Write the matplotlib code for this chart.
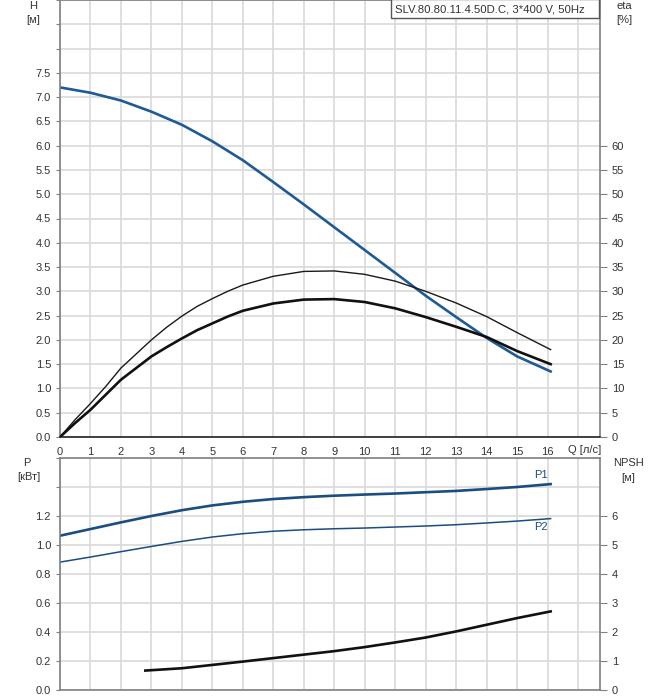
import numpy as np
import matplotlib.pyplot as plt
from matplotlib.patches import Rectangle

plt.rcParams['font.family'] = ['Liberation Sans', 'DejaVu Sans']

# values
q_h = [0, 1, 2, 3, 4, 5, 6, 7, 8, 9, 10, 11, 12, 13, 14, 15, 16.1]
h = [7.2, 7.09, 6.93, 6.70, 6.43, 6.09, 5.70, 5.25, 4.79, 4.32, 3.85, 3.38, 2.91, 2.47, 2.04, 1.66, 1.35]

q_eta = [0, 0.5, 1, 1.5, 2, 2.5, 3, 3.5, 4, 4.5, 5, 5.5, 6, 7, 8, 9, 10, 11, 12, 13, 14, 15, 16.1]
eta_pump = [0, 3.6, 6.9, 10.4, 14.2, 17.1, 20.0, 22.6, 24.9, 26.9, 28.5, 30.0, 31.3, 33.1, 34.1, 34.2, 33.5, 32.1, 30.0, 27.6, 24.8, 21.5, 18.0]
eta_total = [0, 2.9, 5.6, 8.7, 11.8, 14.2, 16.6, 18.5, 20.3, 22.0, 23.4, 24.8, 26.0, 27.5, 28.3, 28.4, 27.8, 26.5, 24.7, 22.7, 20.6, 17.7, 15.0]

q_p = [0, 1, 2, 3, 4, 5, 6, 7, 8, 9, 10, 11, 12, 13, 14, 15, 16.1]
p1 = [1.064, 1.11, 1.156, 1.20, 1.240, 1.273, 1.298, 1.317, 1.330, 1.340, 1.348, 1.355, 1.364, 1.373, 1.386, 1.40, 1.42]
p2 = [0.882, 0.917, 0.954, 0.99, 1.025, 1.055, 1.078, 1.095, 1.105, 1.112, 1.117, 1.124, 1.131, 1.14, 1.152, 1.165, 1.182]

q_npsh = [2.8, 4, 5, 6, 7, 8, 9, 10, 11, 12, 13, 14, 15, 16.1]
npsh = [0.67, 0.75, 0.865, 0.98, 1.10, 1.22, 1.34, 1.48, 1.64, 1.81, 2.02, 2.25, 2.48, 2.71]

title = "SLV.80.80.11.4.50D.C, 3*400 V, 50Hz"

txt = '#333333'
grid_c = '#d9d9d9'
spine_c = '#808080'
blue_h = '#1e5b94'
blue_p = '#1a4d80'

W, H = 658, 700
fig = plt.figure(figsize=(W / 100, H / 100), dpi=100)
ax = fig.add_axes([60 / W, 263 / H, 540 / W, 437 / H])
ax2 = fig.add_axes([60 / W, 10 / H, 540 / W, 232 / H])

xmax = 17.72
for a in (ax, ax2):
    a.set_xlim(0, xmax)
    a.set_xticks(np.arange(0, 18))
    a.grid(True, color=grid_c, linewidth=1.2)
    a.set_axisbelow(True)
    for s in a.spines.values():
        s.set_color(spine_c)
        s.set_linewidth(1.2)
    a.tick_params(colors=spine_c, labelcolor=txt, labelsize=8, length=3)

# top chart: H and eta
ax.set_ylim(0, 9)
ax.set_yticks(np.arange(0, 9.01, 0.5))
ax.set_yticklabels([f"{v:.1f}" if v <= 7.5 else "" for v in np.arange(0, 9.01, 0.5)])
ax.set_xticklabels([str(i) if i <= 16 else "" for i in range(18)])
ax.tick_params(axis='x', length=0, pad=7)
ax.spines['bottom'].set_color('#222222')
ax.plot(q_h, h, color=blue_h, linewidth=1.9)

ax_eta = ax.twinx()
ax_eta.set_ylim(0, 90)
ax_eta.set_yticks(np.arange(0, 61, 5))
ax_eta.tick_params(colors=spine_c, labelcolor=txt, labelsize=8, length=5)
for s in ax_eta.spines.values():
    s.set_visible(False)
ax_eta.plot(q_eta, eta_pump, color='#1a1a1a', linewidth=1.0)
ax_eta.plot(q_eta, eta_total, color='#111111', linewidth=1.9)

ax.text(17.2, -0.27, "Q [л/с]", ha='center', va='center', fontsize=8, color=txt)

# title box in the top right corner
fig.patches.append(Rectangle((391.5 / W, 1 - 18 / H), 207.5 / W, 19 / H,
                             transform=fig.transFigure, fc='white', ec='#555555',
                             lw=1.0, zorder=5))
fig.text(395 / W, 1 - 10 / H, title, ha='left', va='center', fontsize=8.2,
         color=txt, zorder=6)

# bottom chart: P and NPSH
ax2.set_ylim(0, 1.6)
pt = np.arange(0, 1.61, 0.2)
ax2.set_yticks(pt)
ax2.set_yticklabels([f"{v:.1f}" if v <= 1.21 else "" for v in pt])
ax2.tick_params(axis='x', length=0, labelbottom=False)
ax2.plot(q_p, p1, color=blue_p, linewidth=1.9)
ax2.plot(q_p, p2, color=blue_p, linewidth=1.1)
ax2.text(16.0, p1[-1] + 0.025, "P1", color=blue_p, fontsize=8, ha='right', va='bottom')
ax2.text(16.0, p2[-1] - 0.025, "P2", color=blue_p, fontsize=8, ha='right', va='top')

ax_n = ax2.twinx()
ax_n.set_ylim(0, 8)
ax_n.set_yticks(np.arange(0, 7))
ax_n.tick_params(colors=spine_c, labelcolor=txt, labelsize=8, length=5)
for s in ax_n.spines.values():
    s.set_visible(False)
ax_n.plot(q_npsh, npsh, color='#111111', linewidth=1.9)

# axis names and units
fig.text(33 / W, 1 - 6 / H, "H", ha='center', va='center', fontsize=8, color=txt)
fig.text(33 / W, 1 - 20 / H, "[м]", ha='center', va='center', fontsize=8, color=txt)
fig.text(624 / W, 1 - 6 / H, "eta", ha='center', va='center', fontsize=8, color=txt)
fig.text(624 / W, 1 - 20 / H, "[%]", ha='center', va='center', fontsize=8, color=txt)
fig.text(27 / W, 1 - 463 / H, "P", ha='center', va='center', fontsize=8, color=txt)
fig.text(29 / W, 1 - 477 / H, "[кВт]", ha='center', va='center', fontsize=8, color=txt)
fig.text(628 / W, 1 - 463 / H, "NPSH", ha='center', va='center', fontsize=8, color=txt)
fig.text(628 / W, 1 - 478 / H, "[м]", ha='center', va='center', fontsize=8, color=txt)

fig.savefig("out.png", dpi=100)
